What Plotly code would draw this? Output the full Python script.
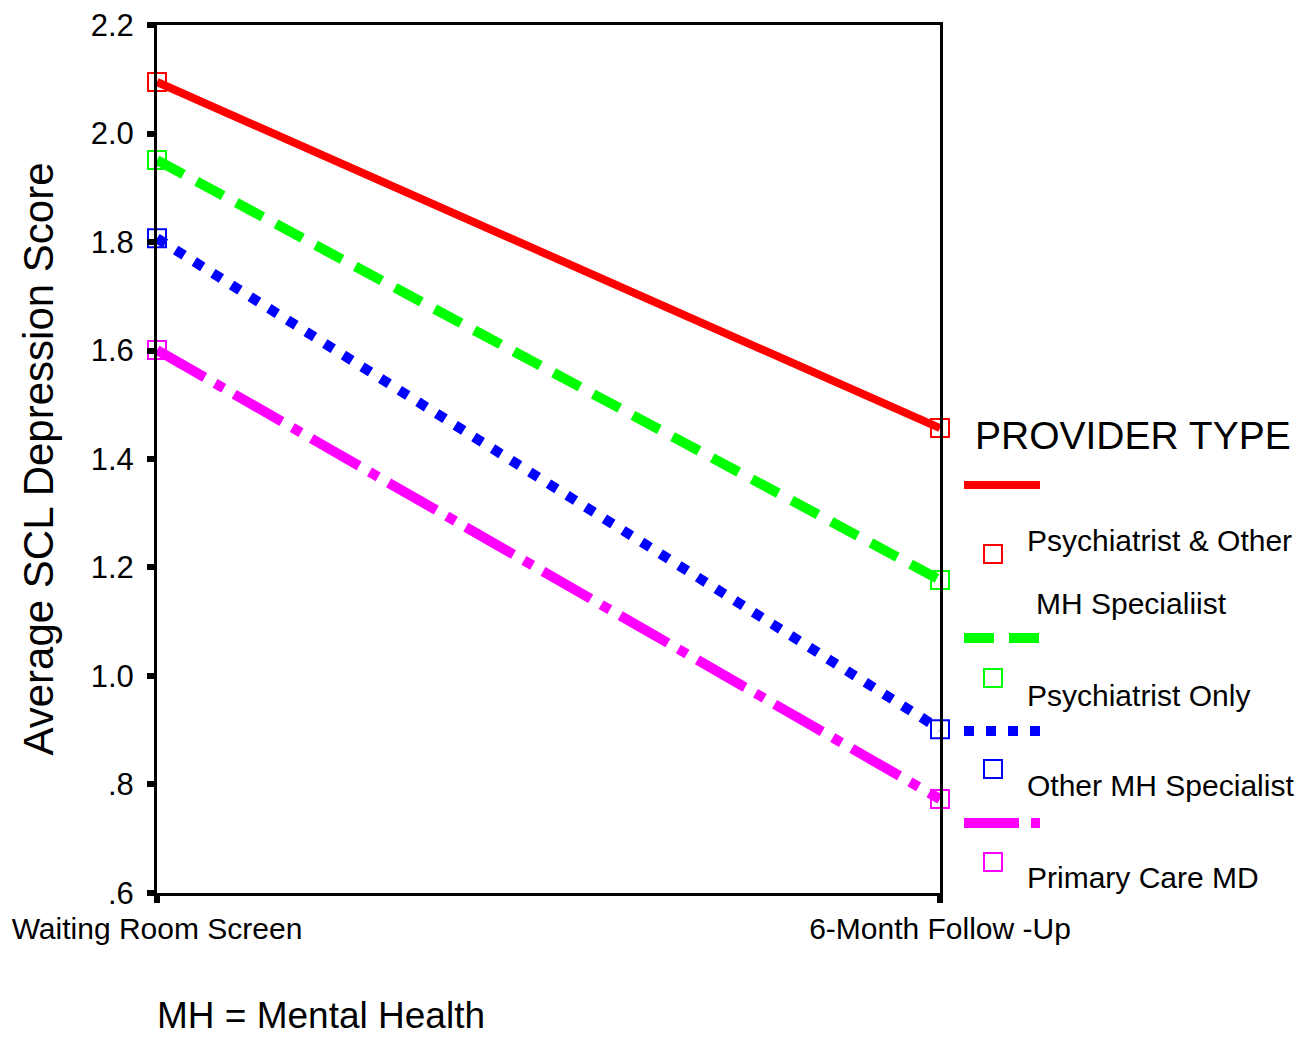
import plotly.graph_objects as go

# ---- data ----
time_points = ["Waiting Room Screen", "6-Month Follow -Up"]
psych_and_other = [2.095, 1.457]
psych_only = [1.951, 1.177]
other_mh = [1.807, 0.902]
primary_care = [1.601, 0.773]
series_names = ["Psychiatrist & Other MH Specialiist", "Psychiatrist Only",
                "Other MH Specialist", "Primary Care MD"]
y_tick_vals = [0.6, 0.8, 1.0, 1.2, 1.4, 1.6, 1.8, 2.0, 2.2]
y_tick_text = [".6", ".8", "1.0", "1.2", "1.4", "1.6", "1.8", "2.0", "2.2"]

# ---- styles ----
colors = ["#ff0000", "#00ff00", "#0000ff", "#ff00ff"]
dashes = ["solid", "30px,15px", "10px,12px", "55px,12px,10px,12px"]
widths = [8, 10, 10, 10]
FONT = "Liberation Sans, Arial, sans-serif"

OFF = 8  # page body margin
W, H = 1303 - OFF, 1038 - OFF
L, R, T, B = 157 - OFF, 940 - OFF, 25 - OFF, 893 - OFF

def px(xp):
    return (xp - OFF - L) / (R - L)

def py(yp):
    return (B - (yp - OFF)) / (B - T)

fig = go.Figure()
xs = [0, 1]
all_series = [psych_and_other, psych_only, other_mh, primary_care]
for vals, name, c, d, w in zip(all_series, series_names, colors, dashes, widths):
    fig.add_trace(go.Scatter(
        x=xs, y=vals, mode="lines+markers", name=name,
        line=dict(color=c, width=w, dash=d),
        marker=dict(symbol="square-open", size=18, color=c, line=dict(width=2, color=c)),
        showlegend=False, cliponaxis=False))

shapes = []
annotations = []

# legend title
annotations.append(dict(text="PROVIDER TYPE", x=px(973), y=py(435), xref="paper", yref="paper",
                        xanchor="left", yanchor="middle", showarrow=False,
                        font=dict(family=FONT, size=39, color="black")))
leg_line_y = [485, 638, 731, 823]
leg_sq_y = [554, 678, 769, 862]
leg_text = [("Psychiatrist & Other", 1025, 540), ("MH Specialiist", 1034, 603),
            ("Psychiatrist Only", 1025, 695), ("Other MH Specialist", 1025, 785),
            ("Primary Care MD", 1025, 877)]
for i in range(4):
    shapes.append(dict(type="line", xref="paper", yref="paper",
                       x0=px(964), x1=px(1040), y0=py(leg_line_y[i]), y1=py(leg_line_y[i]),
                       line=dict(color=colors[i], width=widths[i], dash=dashes[i])))
    shapes.append(dict(type="rect", xref="paper", yref="paper",
                       x0=px(984), x1=px(1002), y0=py(leg_sq_y[i] - 9), y1=py(leg_sq_y[i] + 9),
                       line=dict(color=colors[i], width=2)))
for t, xx, yy in leg_text:
    annotations.append(dict(text=t, x=px(xx), y=py(yy), xref="paper", yref="paper",
                            xanchor="left", yanchor="middle", showarrow=False,
                            font=dict(family=FONT, size=30, color="black")))

annotations.append(dict(text="MH = Mental Health", x=px(155), y=py(1015), xref="paper", yref="paper",
                        xanchor="left", yanchor="middle", showarrow=False,
                        font=dict(family=FONT, size=37, color="black")))

fig.update_layout(
    width=W, height=H,
    margin=dict(l=L, r=W - R, t=T, b=H - B, pad=0, autoexpand=False),
    paper_bgcolor="white", plot_bgcolor="white",
    showlegend=False,
    shapes=shapes, annotations=annotations,
    xaxis=dict(range=[0, 1], tickvals=xs, ticktext=time_points, automargin=False,
               ticklabeloverflow="allow",
               showgrid=False, zeroline=False,
               showline=True, linecolor="black", linewidth=3, mirror=True,
               ticks="outside", ticklen=7, tickwidth=6, tickcolor="black",
               tickfont=dict(family=FONT, size=30, color="black")),
    yaxis=dict(range=[0.5999, 2.2001], tickvals=y_tick_vals, ticktext=y_tick_text, automargin=False,
               ticklabeloverflow="allow",
               showgrid=False, zeroline=False,
               showline=True, linecolor="black", linewidth=3, mirror=True,
               ticks="outside", ticklen=7, tickwidth=6, tickcolor="black",
               ticklabelstandoff=7,
               tickfont=dict(family=FONT, size=31, color="black"),
               title=dict(text="Average SCL Depression Score", standoff=24,
                          font=dict(family=FONT, size=42, color="black"))),
)

fig.write_html("out.html")
